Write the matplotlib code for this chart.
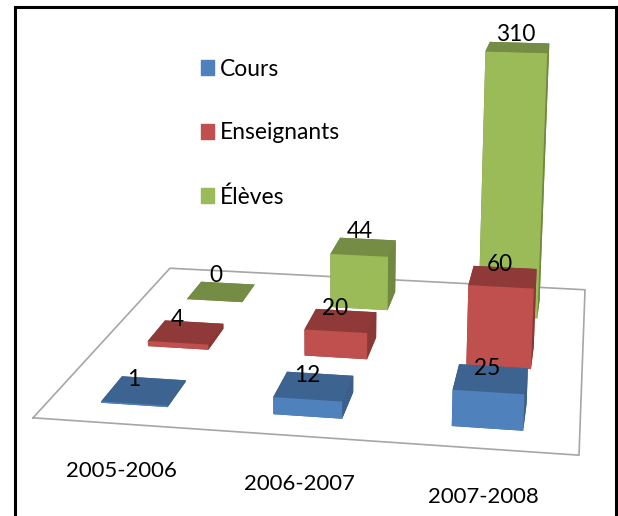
#!/usr/bin/env python3
import numpy as np
import matplotlib
matplotlib.use("Agg")
import matplotlib.pyplot as plt
from matplotlib.patches import Patch
from mpl_toolkits.mplot3d import proj3d

years = ["2005-2006", "2006-2007", "2007-2008"]
series = ["Cours", "Enseignants", "Élèves"]
cours = [1, 12, 25]
enseignants = [4, 20, 60]
eleves = [0, 44, 310]

front = ["#4F81BD", "#C0504D", "#9BBB59"]
top = ["#3D6491", "#8F3A38", "#748C43"]
side = ["#3B5F8A", "#8A3836", "#708840"]

plt.rcParams['font.family'] = ['Lato', 'DejaVu Sans']
fig = plt.figure(figsize=(6.18, 5.16), dpi=100)

# border (no bottom edge, the picture is cut there)
frame = fig.add_axes([15 / 618, -4 / 516, 601 / 618, 513 / 516])
frame.set_xticks([])
frame.set_yticks([])
frame.spines['bottom'].set_visible(False)
for s in ['left', 'top', 'right']:
    frame.spines[s].set_linewidth(2.2)

ax = fig.add_axes([0, 0, 1, 1], projection='3d')
ax.set_xlim(0, 3)
ax.set_ylim(0, 3)
ax.set_zlim(0, 208)

# camera fitted on the four corners of the floor
ax.view_init(15.1231, -80.7028, -0.1288)
ax.set_proj_type('persp', focal_length=0.4001)
ax.set_box_aspect((1, 0.9453, 0.5902))
sc, ox, oy = 3844.78, 341.24, 210.31
vl = ax.viewLim
S = sc * vl.width
ax.set_position([(ox + sc * vl.x0) / 618, (516 - (oy - sc * vl.y0)) / 516, S / 618, S / 516])
ax.set_axis_off()
ax.patch.set_alpha(0)
ax.computed_zorder = False

ax.plot([0, 3, 3, 0, 0], [0, 0, 3, 3, 0], [0, 0, 0, 0, 0], color="#A6A6A6", lw=1.2, zorder=0)

width = 0.39
depth = 0.42
rows = [cours, enseignants, eleves]


def bar_height(v):
    # the 310 bar is drawn shorter than true scale in the original
    return np.interp(v, [0, 60, 310], [0, 60, 208])


def put_text(x, y, z, txt, **kw):
    # flat text at the projected spot of a floor/bar point
    x2, y2, _ = proj3d.proj_transform(x, y, z, ax.get_proj())
    ax.text2D(x2, y2, txt, transform=ax.transData, zorder=50, **kw)


for r in (2, 1, 0):
    for c in range(3):
        cols = [top[r], top[r], front[r], top[r], side[r], side[r]]
        ax.bar3d(c + 0.5 - width / 2, r + 0.5 - depth / 2, 0, width, depth, bar_height(rows[r][c]),
                 color=cols, shade=False, zorder=10 + (2 - r) * 3 + c)

label_dx = [-0.065, -0.04, -0.02]
label_dy = [0, 0.03, 0.12]
for r in range(3):
    for c in range(3):
        v = rows[r][c]
        put_text(c + 0.5 + label_dx[c], r + 0.5 + label_dy[r], bar_height(v), str(v),
                 ha='center', va='bottom', fontsize=16.3)

year_x = [0.69, 1.618, 2.54]
for c in range(3):
    put_text(year_x[c], -0.62, 0, years[c], ha='center', va='center', fontsize=15.9)

handles = [Patch(color=front[i], label=series[i]) for i in range(3)]
fig.legend(handles=handles, loc='upper left', bbox_to_anchor=(180 / 618, 1 - 38 / 516), frameon=False,
           fontsize=16.4, handlelength=0.61, handleheight=0.61, labelspacing=1.88, handletextpad=0.26)

fig.savefig("out.png", dpi=100)
